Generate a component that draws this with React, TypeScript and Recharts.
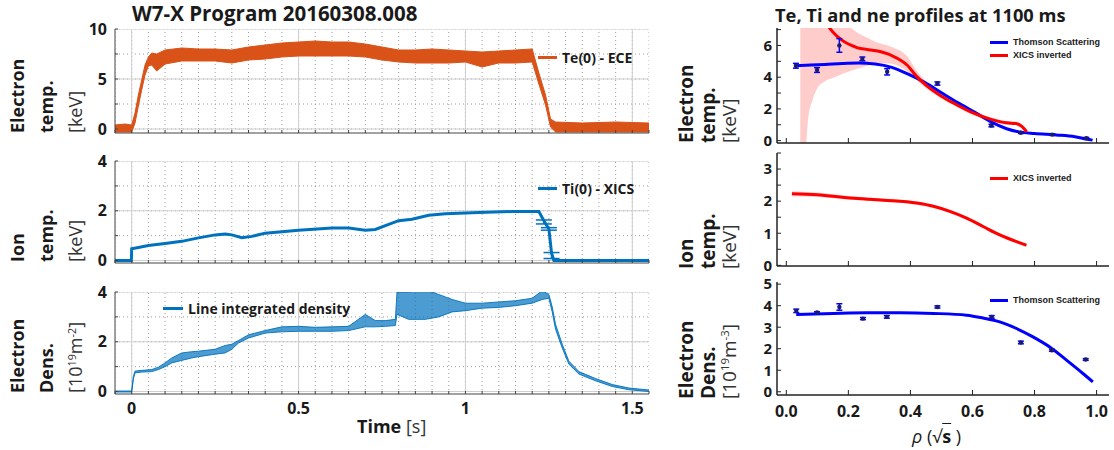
import React from 'react'
import { ComposedChart, Area, Line, XAxis, YAxis, ErrorBar } from 'recharts'

const FONT = '"Open Sans", "DejaVu Sans", sans-serif'
const LEG_FONT = '"Liberation Sans", Arial, sans-serif'
const INK = '#1a1a1a'
const ORANGE = '#D95319'
const MATLAB_BLUE = '#0072BD'
const BLUE = '#0000FF'
const RED = '#FF0000'
const NAVY = '#1b1b6e'

// ---- left column: time traces ----
const teTime = [-0.05, -0.02, 0, 0.01, 0.02, 0.03, 0.04, 0.05, 0.06, 0.075, 0.1, 0.15, 0.2, 0.25, 0.3, 0.35, 0.4, 0.45, 0.5, 0.55, 0.6, 0.65, 0.7, 0.75, 0.8, 0.85, 0.9, 0.95, 1.0, 1.05, 1.1, 1.15, 1.2, 1.22, 1.24, 1.255, 1.27, 1.35, 1.45, 1.55]
const teLow = [-0.3, -0.3, -0.3, 0.6, 2.3, 3.9, 5.4, 6.3, 6.4, 5.8, 6.5, 6.8, 6.8, 6.8, 6.6, 6.9, 7.0, 7.2, 7.3, 7.3, 7.3, 7.3, 7.2, 6.9, 6.7, 6.6, 6.6, 6.6, 6.7, 6.2, 6.6, 6.6, 6.7, 4.5, 2.4, 0.2, -0.3, -0.3, -0.3, -0.3]
const teHigh = [0.4, 0.5, 0.4, 1.6, 3.4, 4.9, 6.4, 7.2, 7.6, 7.5, 7.9, 8.1, 8.0, 8.0, 7.9, 8.2, 8.4, 8.6, 8.7, 8.8, 8.7, 8.7, 8.5, 8.2, 7.9, 7.9, 8.0, 7.9, 7.8, 7.7, 7.8, 7.9, 8.0, 5.6, 3.4, 1.0, 0.7, 0.6, 0.7, 0.6]

const tiTime = [-0.05, -0.001, 0, 0.02, 0.05, 0.1, 0.15, 0.2, 0.25, 0.28, 0.3, 0.33, 0.36, 0.4, 0.5, 0.6, 0.65, 0.7, 0.73, 0.77, 0.8, 0.84, 0.89, 0.94, 1.04, 1.14, 1.22, 1.235, 1.25, 1.258, 1.265, 1.4, 1.55]
const tiValue = [0, 0, 0.47, 0.52, 0.6, 0.68, 0.77, 0.91, 1.03, 1.07, 1.03, 0.92, 0.97, 1.1, 1.22, 1.31, 1.31, 1.22, 1.25, 1.45, 1.6, 1.66, 1.82, 1.88, 1.93, 1.97, 1.97, 1.6, 1.27, 0.3, 0, 0, 0]
const tiCapTime = [1.235, 1.25, 1.258]
const tiCapValue = [1.55, 1.27, 0.2]
const tiCapErr = [0.08, 0.05, 0.12]

const neTime = [-0.05, 0, 0.005, 0.01, 0.03, 0.06, 0.08, 0.1, 0.12, 0.15, 0.18, 0.2, 0.25, 0.28, 0.3, 0.32, 0.35, 0.4, 0.45, 0.5, 0.55, 0.6, 0.65, 0.7, 0.73, 0.76, 0.79, 0.795, 0.83, 0.88, 0.92, 0.96, 1.0, 1.05, 1.1, 1.15, 1.2, 1.23, 1.25, 1.26, 1.27, 1.29, 1.31, 1.34, 1.39, 1.44, 1.49, 1.55]
const neLow = [-0.02, -0.02, 0.5, 0.75, 0.78, 0.8, 0.88, 1.0, 1.15, 1.25, 1.35, 1.4, 1.5, 1.55, 1.7, 1.95, 2.15, 2.35, 2.4, 2.42, 2.42, 2.42, 2.45, 2.6, 2.6, 2.62, 2.65, 3.1, 2.9, 2.9, 3.0, 3.2, 3.25, 3.35, 3.38, 3.45, 3.55, 3.7, 3.75, 3.2, 2.5, 1.75, 1.1, 0.7, 0.43, 0.2, 0.07, 0.0]
const neHigh = [0.02, 0.02, 0.6, 0.82, 0.85, 0.88, 0.98, 1.15, 1.35, 1.55, 1.6, 1.62, 1.7, 1.85, 1.9, 2.05, 2.28, 2.45, 2.6, 2.62, 2.58, 2.6, 2.62, 3.1, 2.85, 2.85, 2.9, 4.0, 4.0, 4.1, 3.9, 3.7, 3.55, 3.55, 3.6, 3.65, 3.75, 4.05, 3.9, 3.4, 2.7, 1.9, 1.22, 0.8, 0.52, 0.28, 0.14, 0.06]

// ---- right column: profiles at 1100 ms ----
const xicsRho = [0.045, 0.06, 0.07, 0.085, 0.1, 0.125, 0.15, 0.18, 0.21, 0.23, 0.26, 0.29, 0.34, 0.39, 0.42, 0.45, 0.5, 0.55, 0.6, 0.66, 0.71, 0.74, 0.76, 0.775]
const xicsTe = [10.5, 10, 9.6, 9, 8.4, 7.5, 6.85, 6.32, 6.0, 5.85, 5.75, 5.66, 5.36, 4.75, 4.05, 3.5, 2.8, 2.25, 1.76, 1.34, 1.12, 1.08, 0.88, 0.55]
const xicsTeLow = [-1, -1, 1.3, 2.6, 3.3, 3.75, 3.95, 4.2, 4.4, 4.55, 4.7, 4.9, 4.85, 4.35, 3.8, 3.3, 2.65, 2.1, 1.62, 1.22, 1.0, 0.97, 0.78, 0.47]
const xicsTeHigh = [12, 12, 12, 12, 12, 12, 10, 8, 7.1, 6.8, 6.5, 6.2, 5.9, 5.3, 4.4, 3.75, 2.95, 2.4, 1.9, 1.46, 1.24, 1.2, 1.0, 0.63]

const tsFitRho = [0.029, 0.08, 0.125, 0.18, 0.233, 0.286, 0.34, 0.393, 0.447, 0.5, 0.554, 0.608, 0.66, 0.71, 0.75, 0.8, 0.87, 0.93, 0.967, 0.987]
const tsFitTe = [4.72, 4.76, 4.8, 4.86, 4.89, 4.83, 4.62, 4.19, 3.66, 3.02, 2.38, 1.78, 1.18, 0.75, 0.55, 0.45, 0.36, 0.25, 0.1, 0.03]

const tsRho = [0.031, 0.099, 0.171, 0.245, 0.325, 0.487, 0.661, 0.756, 0.857, 0.967]
const tsTe = [4.72, 4.45, 6.0, 5.15, 4.34, 3.6, 0.95, 0.5, 0.38, 0.15]
const tsTeErr = [0.15, 0.15, 0.43, 0.12, 0.2, 0.1, 0.08, 0.05, 0.05, 0.05]

const tiRho = [0.018, 0.099, 0.206, 0.313, 0.42, 0.474, 0.527, 0.581, 0.634, 0.688, 0.742, 0.774]
const tiProfile = [2.23, 2.2, 2.1, 2.03, 1.94, 1.84, 1.68, 1.47, 1.21, 0.95, 0.74, 0.63]
const tiProfileErr = [0.08, 0.07, 0.06, 0.05, 0.05, 0.05, 0.05, 0.05, 0.05, 0.05, 0.05, 0.05]

const neFitRho = [0.032, 0.152, 0.259, 0.367, 0.474, 0.581, 0.634, 0.688, 0.742, 0.795, 0.849, 0.903, 0.956, 0.988]
const neFit = [3.59, 3.64, 3.67, 3.67, 3.64, 3.56, 3.43, 3.25, 2.94, 2.55, 2.08, 1.47, 0.85, 0.46]
const neRho = [0.032, 0.099, 0.171, 0.247, 0.324, 0.487, 0.662, 0.756, 0.856, 0.965]
const neProfile = [3.76, 3.68, 3.94, 3.4, 3.48, 3.94, 3.48, 2.29, 1.93, 1.5]
const neProfileErr = [0.08, 0.04, 0.15, 0.05, 0.06, 0.05, 0.06, 0.06, 0.05, 0.04]

// ---- axis ticks ----
const steps = (a: number, b: number, d: number) => {
  const out: number[] = []
  for (let v = a; v <= b + 1e-9; v += d) out.push(Math.round(v * 1000) / 1000)
  return out
}
const T_DOMAIN: [number, number] = [-0.05, 1.55]
const tMinor = steps(-0.05, 1.55, 0.05)
const tMajor = [0, 0.5, 1, 1.5]
const R_DOMAIN: [number, number] = [-0.03, 1.04]
const rhoTicks = [0, 0.2, 0.4, 0.6, 0.8, 1.0]

// ---- tables ----
const teRows = teTime.map((t, i) => ({ t, band: [teLow[i], teHigh[i]] }))
const tiRows = tiTime.map((t, i) => ({ t, v: tiValue[i] }))
const tiCapRows = tiCapTime.map((t, i) => ({ t, v: tiCapValue[i], err: tiCapErr[i] }))
const neRows = neTime.map((t, i) => ({ t, band: [neLow[i], neHigh[i]] }))

const xicsRows = xicsRho.map((rho, i) => ({ rho, v: xicsTe[i], band: [xicsTeLow[i], xicsTeHigh[i]] }))
const tsFitRows = tsFitRho.map((rho, i) => ({ rho, v: tsFitTe[i] }))
const tsRows = tsRho.map((rho, i) => ({ rho, v: tsTe[i], err: tsTeErr[i] }))
const tiProfRows = tiRho.map((rho, i) => ({ rho, v: tiProfile[i], band: [tiProfile[i] - tiProfileErr[i], tiProfile[i] + tiProfileErr[i]] }))
const neFitRows = neFitRho.map((rho, i) => ({ rho, v: neFit[i] }))
const neRows2 = neRho.map((rho, i) => ({ rho, v: neProfile[i], err: neProfileErr[i] }))

const tickFont = { fontFamily: FONT, fontSize: 16, fontWeight: 700, fill: INK }
const rightTickFont = { ...tickFont, fontSize: 15 }
const blank = () => ''
const PAD = 12

// grid lines as two-point series
const hLine = (v: number) => [{ t: T_DOMAIN[0], g: v }, { t: T_DOMAIN[1], g: v }]
const vLine = (v: number, d: [number, number]) => [{ t: v, g: d[0] }, { t: v, g: d[1] }]

type TimeProps = {
  top: number
  height: number
  yDomain: [number, number]
  yMinor: number[]
  yMajor: number[]
  showTime?: boolean
  children: React.ReactNode
}

function TimePanel({ top, height, yDomain, yMinor, yMajor, showTime, children }: TimeProps) {
  const minor = { stroke: '#9e9e9e', strokeDasharray: '1 3', strokeWidth: 1 }
  const major = { stroke: '#cfcfcf', strokeWidth: 1 }
  const w = 45 + 534 + 2
  const h = height + PAD + 30
  const layer: React.CSSProperties = { position: 'absolute', left: 0, top: 0 }
  return (
    <div style={{ position: 'absolute', left: 115 - 45, top: top - PAD, width: w, height: h }}>
      {/* grid underneath, in its own svg so it stays below the traces */}
      <div style={layer}>
        <ComposedChart width={w} height={h} margin={{ top: PAD, right: 2, bottom: 30, left: 45 }}>
          <XAxis dataKey="t" type="number" domain={T_DOMAIN} allowDataOverflow hide />
          <YAxis type="number" domain={yDomain} allowDataOverflow hide />
          {tMinor.map((v) => (
            <Line key={`vx${v}`} data={vLine(v, yDomain)} dataKey="g" type="linear" dot={false} activeDot={false} isAnimationActive={false} {...minor} />
          ))}
          {yMinor.map((v) => (
            <Line key={`hy${v}`} data={hLine(v)} dataKey="g" type="linear" dot={false} activeDot={false} isAnimationActive={false} {...minor} />
          ))}
          {tMajor.map((v) => (
            <Line key={`mx${v}`} data={vLine(v, yDomain)} dataKey="g" type="linear" dot={false} activeDot={false} isAnimationActive={false} {...major} />
          ))}
          {yMajor.map((v) => (
            <Line key={`my${v}`} data={hLine(v)} dataKey="g" type="linear" dot={false} activeDot={false} isAnimationActive={false} {...major} />
          ))}
        </ComposedChart>
      </div>
      <div style={layer}>
        <ComposedChart width={w} height={h} margin={{ top: PAD, right: 2, bottom: 0, left: 0 }}>
          <XAxis dataKey="t" type="number" domain={T_DOMAIN} allowDataOverflow ticks={tMinor} interval={0}
            tickSize={-3} tickMargin={12} height={30} stroke="#444" tick={tickFont}
            tickFormatter={(v: number) => (showTime && tMajor.includes(v) ? String(v) : '')} />
          <XAxis xAxisId="top" orientation="top" dataKey="t" type="number" domain={T_DOMAIN} allowDataOverflow
            ticks={tMinor} interval={0} tickSize={-3} height={0} stroke="#444" tickFormatter={blank} />
          <YAxis type="number" domain={yDomain} allowDataOverflow ticks={yMinor} interval={0} tickSize={-3}
            tickMargin={11} width={45} stroke="#444" tick={tickFont}
            tickFormatter={(v: number) => (yMajor.includes(v) ? String(v) : '')} />
          <YAxis yAxisId="right" orientation="right" type="number" domain={yDomain} allowDataOverflow ticks={yMinor}
            interval={0} tickSize={-3} width={0} stroke="#444" tickFormatter={blank} />
          {children}
        </ComposedChart>
      </div>
    </div>
  )
}

type ProfileProps = {
  top: number
  height: number
  yDomain: [number, number]
  yTicks: number[]
  yLabels: number[]
  showRho?: boolean
  children: React.ReactNode
}

function ProfilePanel({ top, height, yDomain, yTicks, yLabels, showRho, children }: ProfileProps) {
  const axisLine = { stroke: '#222', strokeWidth: 1.5 }
  const tickLine = { stroke: '#222', strokeWidth: 1 }
  return (
    <div style={{ position: 'absolute', left: 777 - 45, top: top - PAD }}>
      <ComposedChart width={45 + 332 + 3} height={height + PAD + 30} margin={{ top: PAD, right: 3, bottom: 0, left: 0 }}>
        <XAxis dataKey="rho" type="number" domain={R_DOMAIN} allowDataOverflow ticks={rhoTicks} interval={0}
          tickSize={-5} tickMargin={16} height={30} axisLine={axisLine} tickLine={tickLine} tick={tickFont}
          tickFormatter={(v: number) => (showRho ? v.toFixed(1) : '')} />
        <XAxis xAxisId="top" orientation="top" dataKey="rho" type="number" domain={R_DOMAIN} allowDataOverflow
          ticks={rhoTicks} interval={0} tickSize={-5} height={0} axisLine={axisLine} tickLine={tickLine} tickFormatter={blank} />
        <YAxis type="number" domain={yDomain} allowDataOverflow ticks={yTicks} interval={0} tickSize={-4}
          tickMargin={9} width={45} axisLine={axisLine} tickLine={tickLine} tick={rightTickFont}
          tickFormatter={(v: number) => (yLabels.includes(v) ? String(v) : '')} />
        <YAxis yAxisId="right" orientation="right" type="number" domain={yDomain} allowDataOverflow ticks={yTicks}
          interval={0} tickSize={-4} width={0} axisLine={axisLine} tickLine={tickLine} tickFormatter={blank} />
        {children}
      </ComposedChart>
    </div>
  )
}

type LabelLine = { text: React.ReactNode; bold?: boolean }

function SideLabel({ x, bottom, gap, size, lines }: { x: number; bottom: number; gap: number; size: number; lines: LabelLine[] }) {
  return (
    <div style={{
      position: 'absolute', left: x, top: bottom, transform: 'rotate(-90deg)', transformOrigin: '0 0',
      whiteSpace: 'nowrap', fontFamily: FONT, fontSize: size, lineHeight: `${gap}px`, color: INK,
    }}>
      {lines.map((l, i) => (
        <div key={i} style={{ fontWeight: l.bold ? 700 : 400, color: l.bold ? INK : '#333' }}>{l.text}</div>
      ))}
    </div>
  )
}

function Key({ x, y, color, label, len, thick, size, font, bold }: {
  x: number; y: number; color: string; label: string; len: number; thick: number; size: number; font: string; bold?: boolean
}) {
  return (
    <div style={{ position: 'absolute', left: x, top: y - 10, height: 20, display: 'flex', alignItems: 'center', whiteSpace: 'nowrap' }}>
      <span style={{ display: 'inline-block', width: len, height: thick, background: color, marginRight: 5 }} />
      <span style={{ fontFamily: font, fontSize: size, fontWeight: bold ? 700 : 400, color: INK }}>{label}</span>
    </div>
  )
}

const sup = (s: string) => <sup style={{ fontSize: '0.6em', verticalAlign: '0.6em', lineHeight: 0 }}>{s}</sup>

export default function App() {
  return (
    <div style={{ position: 'absolute', left: 0, top: 0, width: 1114, height: 450, background: '#fff', overflow: 'hidden' }}>
      <TimePanel top={29} height={104} yDomain={[-0.4, 10]} yMinor={[0, 2.5, 5, 7.5, 10]} yMajor={[0, 5, 10]}>
        <Area data={teRows} dataKey="band" type="linear" stroke={ORANGE} strokeWidth={1} fill={ORANGE} fillOpacity={1} isAnimationActive={false} />
      </TimePanel>

      <TimePanel top={161} height={102} yDomain={[-0.1, 4]} yMinor={[0, 1, 2, 3, 4]} yMajor={[0, 2, 4]}>
        <Line data={tiRows} dataKey="v" type="linear" stroke={MATLAB_BLUE} strokeWidth={3} dot={false} isAnimationActive={false} />
        <Line data={tiCapRows} dataKey="v" stroke="none" dot={false} isAnimationActive={false}>
          <ErrorBar dataKey="err" direction="y" width={8} stroke={MATLAB_BLUE} strokeWidth={1.5} />
        </Line>
      </TimePanel>

      <TimePanel top={292} height={102} yDomain={[-0.1, 4]} yMinor={[0, 1, 2, 3, 4]} yMajor={[0, 2, 4]} showTime>
        <Area data={neRows} dataKey="band" type="linear" stroke={MATLAB_BLUE} strokeWidth={0.9} fill={MATLAB_BLUE} fillOpacity={0.7} isAnimationActive={false} />
      </TimePanel>

      <ProfilePanel top={28} height={115} yDomain={[-0.15, 7.1]} yTicks={[0, 1, 2, 3, 4, 5, 6, 7]} yLabels={[0, 2, 4, 6]}>
        <Area data={xicsRows} dataKey="band" type="monotone" stroke="none" fill={RED} fillOpacity={0.2} isAnimationActive={false} />
        <Line data={tsFitRows} dataKey="v" type="monotone" stroke={BLUE} strokeWidth={3} dot={false} isAnimationActive={false} />
        <Line data={xicsRows} dataKey="v" type="monotone" stroke={RED} strokeWidth={3} dot={false} isAnimationActive={false} />
        <Line data={tsRows} dataKey="v" stroke="none" dot={{ r: 2.2, fill: NAVY, stroke: NAVY, strokeWidth: 0 }} isAnimationActive={false}>
          <ErrorBar dataKey="err" direction="y" width={3} stroke={BLUE} strokeWidth={1.5} />
        </Line>
      </ProfilePanel>

      <ProfilePanel top={153} height={113} yDomain={[-0.02, 3.5]} yTicks={[0, 0.5, 1, 1.5, 2, 2.5, 3, 3.5]} yLabels={[0, 1, 2, 3]}>
        <Area data={tiProfRows} dataKey="band" type="monotone" stroke="none" fill={RED} fillOpacity={0.2} isAnimationActive={false} />
        <Line data={tiProfRows} dataKey="v" type="monotone" stroke={RED} strokeWidth={3} dot={false} isAnimationActive={false} />
      </ProfilePanel>

      <ProfilePanel top={282} height={113} yDomain={[-0.15, 5.1]} yTicks={[0, 1, 2, 3, 4, 5]} yLabels={[0, 1, 2, 3, 4, 5]} showRho>
        <Line data={neFitRows} dataKey="v" type="monotone" stroke={BLUE} strokeWidth={3} dot={false} isAnimationActive={false} />
        <Line data={neRows2} dataKey="v" stroke="none" dot={{ r: 2.2, fill: NAVY, stroke: NAVY, strokeWidth: 0 }} isAnimationActive={false}>
          <ErrorBar dataKey="err" direction="y" width={3} stroke={BLUE} strokeWidth={1.5} />
        </Line>
      </ProfilePanel>

      {/* titles */}
      <div style={{ position: 'absolute', left: 132, top: -1, fontFamily: FONT, fontWeight: 700, fontSize: 20.5, color: INK, whiteSpace: 'nowrap' }}>
        W7-X Program 20160308.008
      </div>
      <div style={{ position: 'absolute', left: 775, top: 2, fontFamily: FONT, fontWeight: 700, fontSize: 18.3, color: INK, whiteSpace: 'nowrap' }}>
        Te, Ti and ne profiles at 1100 ms
      </div>

      {/* y labels, left */}
      <SideLabel x={3} bottom={133} gap={29} size={18} lines={[{ text: 'Electron', bold: true }, { text: 'temp.', bold: true }, { text: '[keV]' }]} />
      <SideLabel x={3} bottom={262} gap={29} size={18} lines={[{ text: 'Ion', bold: true }, { text: 'temp.', bold: true }, { text: '[keV]' }]} />
      <SideLabel x={3} bottom={393} gap={29} size={18} lines={[{ text: 'Electron', bold: true }, { text: 'Dens.', bold: true }, { text: <>[10{sup('19')}m{sup('-2')}]</> }]} />

      {/* y labels, right */}
      <SideLabel x={676} bottom={143} gap={21.5} size={19} lines={[{ text: 'Electron', bold: true }, { text: 'temp.', bold: true }, { text: '[keV]' }]} />
      <SideLabel x={676} bottom={269} gap={21.5} size={19} lines={[{ text: 'Ion', bold: true }, { text: 'temp.', bold: true }, { text: '[keV]' }]} />
      <SideLabel x={676} bottom={399} gap={21.5} size={19} lines={[{ text: 'Electron', bold: true }, { text: 'Dens.', bold: true }, { text: <>[10{sup('19')}m{sup('-3')}]</> }]} />

      {/* x labels */}
      <div style={{ position: 'absolute', left: 357, top: 414, fontFamily: FONT, fontSize: 18, color: INK, whiteSpace: 'nowrap' }}>
        <b>Time</b> <span style={{ color: '#333' }}>[s]</span>
      </div>
      <div style={{ position: 'absolute', left: 912, top: 424, fontFamily: FONT, fontSize: 18, color: INK, whiteSpace: 'nowrap' }}>
        <i>ρ</i> (√<span style={{ fontWeight: 700, textDecoration: 'overline' }}>s</span> )
      </div>

      {/* legends */}
      <Key x={538} y={57} color={ORANGE} label="Te(0) - ECE" len={19} thick={3} size={14} font={FONT} bold />
      <Key x={538} y={188} color={MATLAB_BLUE} label="Ti(0) - XICS" len={19} thick={3} size={14} font={FONT} bold />
      <Key x={163} y={308} color={MATLAB_BLUE} label="Line integrated density" len={20} thick={3} size={14} font={FONT} bold />
      <Key x={990} y={42} color={BLUE} label="Thomson Scattering" len={18} thick={3} size={9} font={LEG_FONT} bold />
      <Key x={990} y={55} color={RED} label="XICS inverted" len={18} thick={3} size={9} font={LEG_FONT} bold />
      <Key x={990} y={178} color={RED} label="XICS inverted" len={18} thick={3} size={9} font={LEG_FONT} bold />
      <Key x={990} y={300} color={BLUE} label="Thomson Scattering" len={18} thick={3} size={9} font={LEG_FONT} bold />
    </div>
  )
}
